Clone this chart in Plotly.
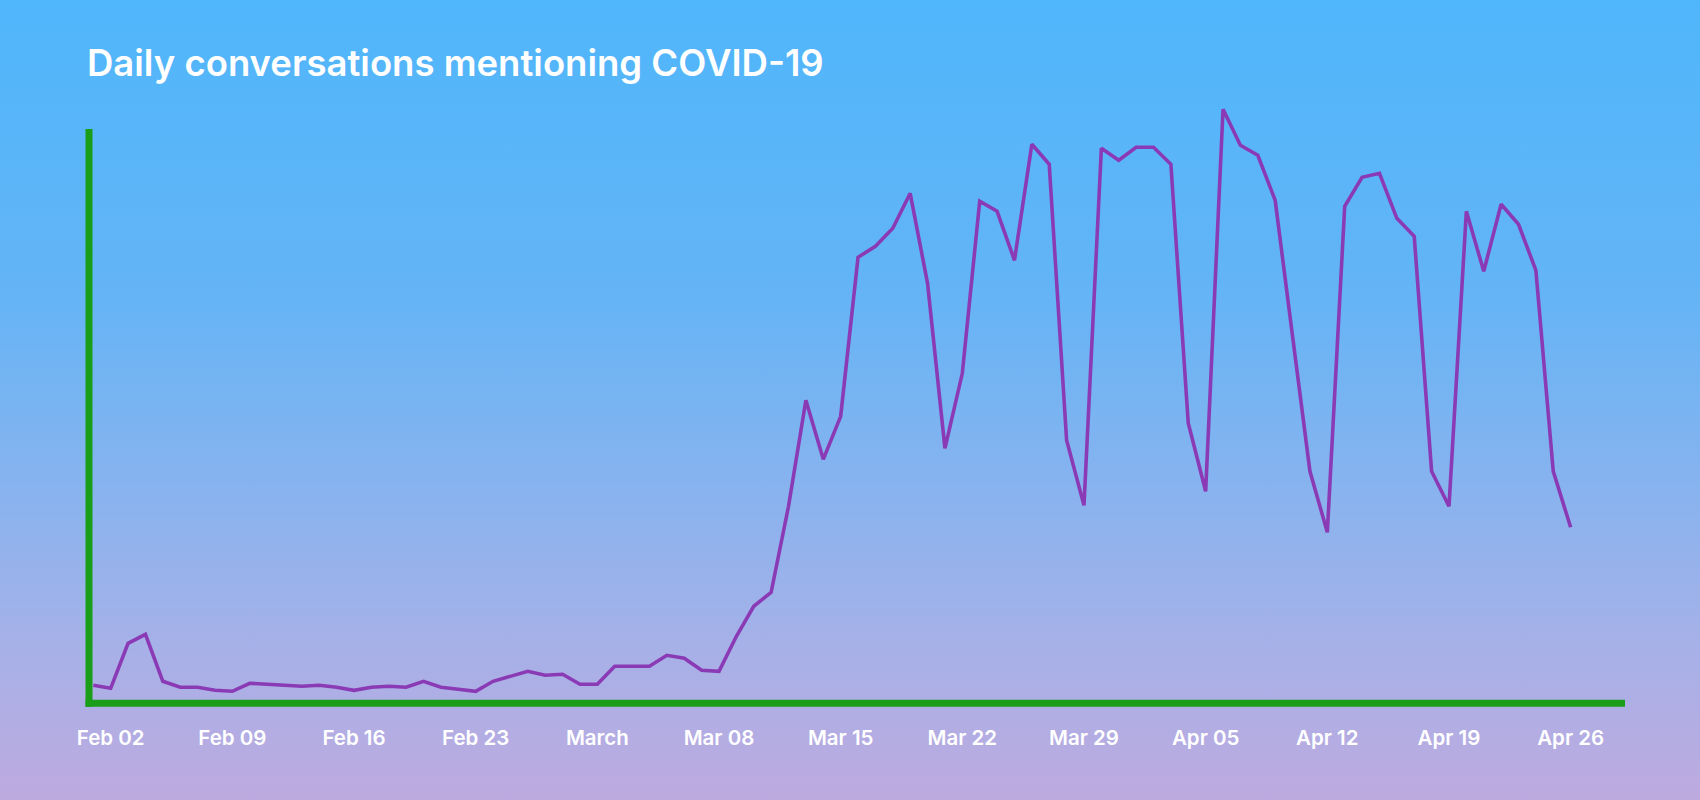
import base64
import pandas as pd
import plotly.graph_objects as go

# ---------------- data ----------------
start_date = "2020-02-01"
end_date = "2020-04-26"
daily_conversations = [
    18, 15, 60, 69, 22, 16, 16, 13, 12, 20,
    19, 18, 17, 18, 16, 13, 16, 17, 16, 22,
    16, 14, 12, 22, 27, 32, 28, 29, 19, 19,
    37, 37, 37, 48, 45, 33, 32, 67, 97, 111,
    197, 303, 244, 287, 446, 457, 475, 510, 420, 255,
    330, 502, 492, 443, 559, 539, 263, 198, 555, 543,
    556, 556, 539, 280, 212, 594, 558, 548, 503, 367,
    232, 171, 497, 526, 530, 485, 467, 232, 197, 492,
    432, 499, 479, 433, 232, 176,
]
tick_dates = ["2020-02-02", "2020-02-09", "2020-02-16", "2020-02-23", "2020-03-01",
              "2020-03-08", "2020-03-15", "2020-03-22", "2020-03-29", "2020-04-05",
              "2020-04-12", "2020-04-19", "2020-04-26"]
tick_labels = ["Feb 02", "Feb 09", "Feb 16", "Feb 23", "March", "Mar 08", "Mar 15",
               "Mar 22", "Mar 29", "Apr 05", "Apr 12", "Apr 19", "Apr 26"]
title_text = "Daily conversations mentioning COVID-19"

dates = pd.date_range(start_date, end_date, freq="D")

# ---------------- layout geometry (pixels) ----------------
W, H = 1700, 800
PX_LEFT, PX_RIGHT = 89, 1628
PX_BOTTOM, PX_TOP = 703.3, 90
GREEN = "#1a9e1a"
PURPLE = "#8b3ab5"
FONT = "Inter"

def fx(px):
    return px / W

def fy(py):
    return (H - py) / H

# gradient background as an SVG image
svg = (
    '<svg xmlns="http://www.w3.org/2000/svg" width="1700" height="800" preserveAspectRatio="none">'
    '<defs><linearGradient id="g" x1="0" y1="0" x2="0" y2="1">'
    '<stop offset="0" stop-color="#50b6fb"/>'
    '<stop offset="0.35" stop-color="#62b4f6"/>'
    '<stop offset="0.6" stop-color="#86b3ef"/>'
    '<stop offset="0.8" stop-color="#a5b1e8"/>'
    '<stop offset="1" stop-color="#bdaadf"/>'
    '</linearGradient></defs>'
    '<rect width="1700" height="800" fill="url(#g)"/></svg>'
)
svg_uri = "data:image/svg+xml;base64," + base64.b64encode(svg.encode()).decode()

fig = go.Figure()
fig.add_trace(go.Scatter(
    x=dates, y=daily_conversations, mode="lines",
    line=dict(color=PURPLE, width=3.6),
    hoverinfo="x+y", showlegend=False,
))

fig.update_layout(
    width=W, height=H,
    margin=dict(l=0, r=0, t=0, b=0, autoexpand=False),
    paper_bgcolor="#86b3ef",
    plot_bgcolor="rgba(0,0,0,0)",
    images=[dict(source=svg_uri, xref="paper", yref="paper", x=0, y=1,
                 sizex=1, sizey=1, xanchor="left", yanchor="top",
                 sizing="stretch", layer="below")],
    title=dict(text=title_text, x=87 / W, xref="paper", xanchor="left",
               y=1 - 63 / H, yref="container", yanchor="middle",
               font=dict(family=FONT, size=36.5, color="white", weight=600)),
    xaxis=dict(
        domain=[fx(PX_LEFT), fx(PX_RIGHT)],
        range=["2020-01-31 18:04", "2020-04-29 07:12"],
        type="date",
        tickmode="array", tickvals=tick_dates, ticktext=tick_labels,
        showgrid=False, zeroline=False, showline=False, ticks="",
        tickfont=dict(family=FONT, size=20.5, color="white", weight=600),
        ticklabelstandoff=20,
    ),
    yaxis=dict(
        domain=[fy(PX_BOTTOM), fy(PX_TOP)],
        range=[0, PX_BOTTOM - PX_TOP],
        showgrid=False, zeroline=False, showline=False,
        showticklabels=False, ticks="",
    ),
    shapes=[
        dict(type="line", xref="paper", yref="paper",
             x0=fx(PX_LEFT - 3.5), x1=fx(1625), y0=fy(PX_BOTTOM), y1=fy(PX_BOTTOM),
             line=dict(color=GREEN, width=7)),
        dict(type="line", xref="paper", yref="paper",
             x0=fx(PX_LEFT), x1=fx(PX_LEFT), y0=fy(PX_BOTTOM + 3.5), y1=fy(129),
             line=dict(color=GREEN, width=7)),
    ],
)

fig.write_html(
    "out.html",
    config={"displayModeBar": False},
    post_script="document.body.style.margin='0';document.body.style.overflow='hidden';",
)
